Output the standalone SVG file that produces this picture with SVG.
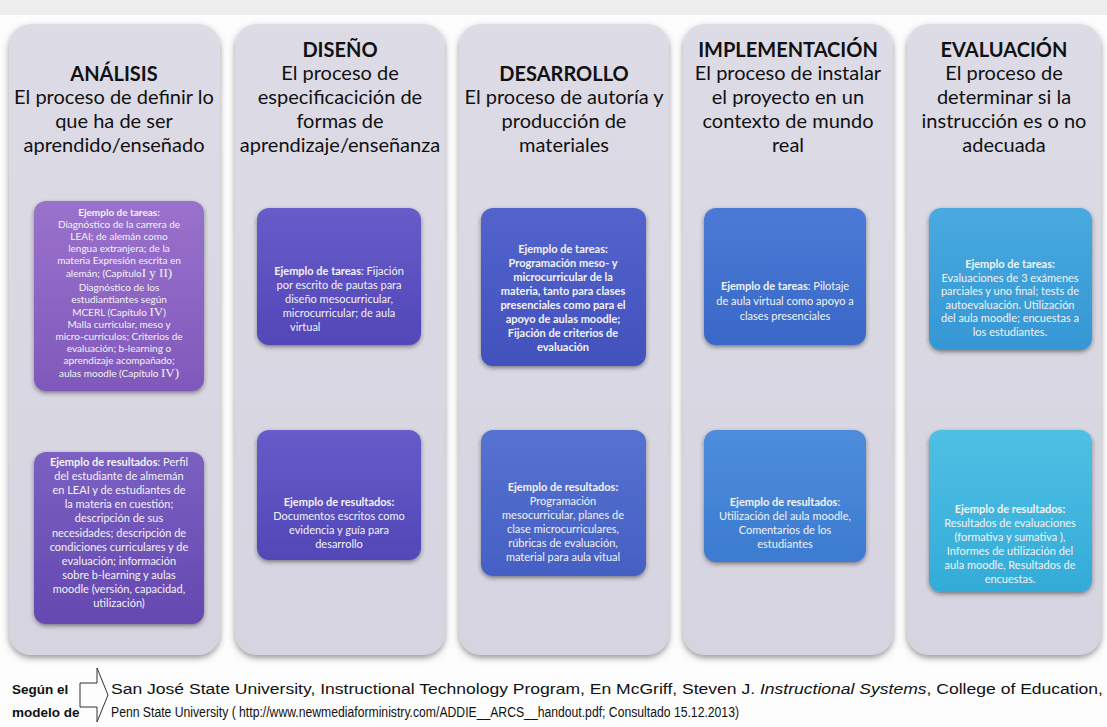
<svg xmlns="http://www.w3.org/2000/svg" width="1107" height="727" viewBox="0 0 1107 727">
<defs>
<style>
.hdr{font-family:Lato,"Open Sans","Liberation Sans",sans-serif;font-size:20px;fill:#111;text-anchor:middle}
.hb{font-weight:bold}
.bx{font-family:Lato,"Open Sans","Liberation Sans",sans-serif;font-size:11px;fill:#f3f3f3;text-anchor:middle}
.sm{font-size:10px}
.b{font-weight:bold}
.rom{font-family:"Liberation Serif",serif;font-size:13px}
.panel{fill:url(#gp)}
.cit{font-family:"Liberation Sans",Arial,sans-serif;font-size:14px;fill:#111}
.citb{font-family:"Liberation Sans",Arial,sans-serif;font-size:13.5px;font-weight:bold;fill:#111}
</style>
<linearGradient id="gp" x1="0" y1="0" x2="0" y2="1"><stop offset="0" stop-color="#dddbe5"/><stop offset="1" stop-color="#d6d4e0"/></linearGradient>
<linearGradient id="g1t" x1="0" y1="0" x2="0" y2="1"><stop offset="0" stop-color="#9a72cc"/><stop offset="1" stop-color="#8058bb"/></linearGradient>
<linearGradient id="g1b" x1="0" y1="0" x2="0" y2="1"><stop offset="0" stop-color="#7b60c2"/><stop offset="1" stop-color="#6448b0"/></linearGradient>
<linearGradient id="g2" x1="0" y1="0" x2="0" y2="1"><stop offset="0" stop-color="#675bc9"/><stop offset="1" stop-color="#5247b8"/></linearGradient>
<linearGradient id="g3t" x1="0" y1="0" x2="0" y2="1"><stop offset="0" stop-color="#5364cc"/><stop offset="1" stop-color="#4251bd"/></linearGradient>
<linearGradient id="g3b" x1="0" y1="0" x2="0" y2="1"><stop offset="0" stop-color="#5672d0"/><stop offset="1" stop-color="#4560c4"/></linearGradient>
<linearGradient id="g4t" x1="0" y1="0" x2="0" y2="1"><stop offset="0" stop-color="#4a7ad6"/><stop offset="1" stop-color="#3a68c8"/></linearGradient>
<linearGradient id="g4b" x1="0" y1="0" x2="0" y2="1"><stop offset="0" stop-color="#4e8ddc"/><stop offset="1" stop-color="#3c7bd0"/></linearGradient>
<linearGradient id="g5t" x1="0" y1="0" x2="0" y2="1"><stop offset="0" stop-color="#48aae0"/><stop offset="1" stop-color="#3597d4"/></linearGradient>
<linearGradient id="g5b" x1="0" y1="0" x2="0" y2="1"><stop offset="0" stop-color="#4fc0e4"/><stop offset="1" stop-color="#33abd8"/></linearGradient>
<filter id="sp" x="-10%" y="-5%" width="120%" height="112%"><feDropShadow dx="0" dy="3" stdDeviation="3" flood-color="#444" flood-opacity="0.55"/></filter>
<filter id="sb" x="-10%" y="-10%" width="120%" height="125%"><feDropShadow dx="0" dy="2" stdDeviation="2" flood-color="#222" flood-opacity="0.5"/></filter>
</defs>
<rect x="0" y="0" width="1107" height="727" fill="#fdfdfd"/>
<rect x="0" y="0" width="1107" height="15" fill="#eeeeee"/>

<g id="analisis">
<rect class="panel" x="9" y="24" width="211" height="631" rx="22" filter="url(#sp)"/>
<text class="hdr hb" x="114" y="81">ANÁLISIS</text>
<text class="hdr" x="114" y="104">El proceso de definir lo</text>
<text class="hdr" x="114" y="128">que ha de ser</text>
<text class="hdr" x="114" y="152">aprendido/enseñado</text>
</g>
<g id="analisis-tareas">
<rect x="34" y="201" width="170" height="190" rx="12" fill="url(#g1t)" filter="url(#sb)"/>
<text class="bx sm b" x="119" y="216">Ejemplo de tareas:</text>
<text class="bx sm" x="119" y="228">Diagnóstico de la carrera de</text>
<text class="bx sm" x="119" y="240">LEAI; de alemán como</text>
<text class="bx sm" x="119" y="252">lengua extranjera; de la</text>
<text class="bx sm" x="119" y="264">materia Expresión escrita en</text>
<text class="bx sm" x="119" y="277">alemán; (Capítulo<tspan class="rom">I y II)</tspan></text>
<text class="bx sm" x="119" y="291">Diagnóstico de los</text>
<text class="bx sm" x="119" y="303">estudiantiantes según</text>
<text class="bx sm" x="119" y="316">MCERL (Capítulo <tspan class="rom">IV</tspan>)</text>
<text class="bx sm" x="119" y="328">Malla curricular, meso y</text>
<text class="bx sm" x="119" y="340">micro-currículos; Criterios de</text>
<text class="bx sm" x="119" y="352">evaluación; b-learning o</text>
<text class="bx sm" x="119" y="364">aprendizaje acompañado;</text>
<text class="bx sm" x="119" y="377">aulas moodle (Capítulo <tspan class="rom">IV)</tspan></text>
</g>
<g id="analisis-resultados">
<rect x="34" y="452" width="170" height="172" rx="12" fill="url(#g1b)" filter="url(#sb)"/>
<text class="bx" x="119" y="466"><tspan class="b">Ejemplo de resultados</tspan>: Perfil</text>
<text class="bx" x="119" y="480">del estudiante de almemán</text>
<text class="bx" x="119" y="494">en LEAI y de estudiantes de</text>
<text class="bx" x="119" y="508">la materia en cuestión;</text>
<text class="bx" x="119" y="522">descripción de sus</text>
<text class="bx" x="119" y="537">necesidades; descripción de</text>
<text class="bx" x="119" y="551">condiciones curriculares y de</text>
<text class="bx" x="119" y="565">evaluación; información</text>
<text class="bx" x="119" y="579">sobre b-learning y aulas</text>
<text class="bx" x="119" y="593">moodle (versión, capacidad,</text>
<text class="bx" x="119" y="607">utilización)</text>
</g>

<g id="diseno">
<rect class="panel" x="235" y="24" width="210" height="631" rx="22" filter="url(#sp)"/>
<text class="hdr hb" x="340" y="57">DISEÑO</text>
<text class="hdr" x="340" y="80">El proceso de</text>
<text class="hdr" x="340" y="104">especificacición de</text>
<text class="hdr" x="340" y="128">formas de</text>
<text class="hdr" x="340" y="152">aprendizaje/enseñanza</text>
</g>
<g id="diseno-tareas">
<rect x="257" y="208" width="164" height="137" rx="12" fill="url(#g2)" filter="url(#sb)"/>
<text class="bx" x="339" y="275"><tspan class="b">Ejemplo de tareas</tspan>: Fijación</text>
<text class="bx" x="339" y="289">por escrito de pautas para</text>
<text class="bx" x="339" y="303">diseño mesocurricular,</text>
<text class="bx" x="339" y="317">microcurricular; de aula</text>
<text class="bx" x="290" y="331" style="text-anchor:start">virtual</text>
</g>
<g id="diseno-resultados">
<rect x="257" y="430" width="164" height="130" rx="12" fill="url(#g2)" filter="url(#sb)"/>
<text class="bx b" x="339" y="506">Ejemplo de resultados:</text>
<text class="bx" x="339" y="520">Documentos escritos como</text>
<text class="bx" x="339" y="534">evidencia y guía para</text>
<text class="bx" x="339" y="548">desarrollo</text>
</g>

<g id="desarrollo">
<rect class="panel" x="459" y="24" width="210" height="631" rx="22" filter="url(#sp)"/>
<text class="hdr hb" x="564" y="81">DESARROLLO</text>
<text class="hdr" x="564" y="104">El proceso de autoría y</text>
<text class="hdr" x="564" y="128">producción de</text>
<text class="hdr" x="564" y="152">materiales</text>
</g>
<g id="desarrollo-tareas">
<rect x="481" y="208" width="165" height="158" rx="12" fill="url(#g3t)" filter="url(#sb)"/>
<text class="bx b" x="563" y="253">Ejemplo de tareas:</text>
<text class="bx b" x="563" y="267">Programación meso- y</text>
<text class="bx b" x="563" y="281">microcurricular de la</text>
<text class="bx b" x="563" y="295">materia, tanto para clases</text>
<text class="bx b" x="563" y="309">presenciales como para el</text>
<text class="bx b" x="563" y="323">apoyo de aulas moodle;</text>
<text class="bx b" x="563" y="337">Fijación de criterios de</text>
<text class="bx b" x="563" y="351">evaluación</text>
</g>
<g id="desarrollo-resultados">
<rect x="481" y="430" width="165" height="146" rx="12" fill="url(#g3b)" filter="url(#sb)"/>
<text class="bx b" x="563" y="491">Ejemplo de resultados:</text>
<text class="bx" x="563" y="505">Programación</text>
<text class="bx" x="563" y="519">mesocurricular, planes de</text>
<text class="bx" x="563" y="533">clase microcurriculares,</text>
<text class="bx" x="563" y="547">rúbricas de evaluación,</text>
<text class="bx" x="563" y="561">material para aula vitual</text>
</g>

<g id="implementacion">
<rect class="panel" x="683" y="24" width="210" height="631" rx="22" filter="url(#sp)"/>
<text class="hdr hb" x="788" y="57">IMPLEMENTACIÓN</text>
<text class="hdr" x="788" y="80">El proceso de instalar</text>
<text class="hdr" x="788" y="104">el proyecto en un</text>
<text class="hdr" x="788" y="128">contexto de mundo</text>
<text class="hdr" x="788" y="152">real</text>
</g>
<g id="implementacion-tareas">
<rect x="704" y="208" width="162" height="137" rx="12" fill="url(#g4t)" filter="url(#sb)"/>
<text class="bx" x="785" y="290"><tspan class="b">Ejemplo de tareas</tspan>: Pilotaje</text>
<text class="bx" x="785" y="305">de aula virtual como apoyo a</text>
<text class="bx" x="785" y="320">clases presenciales</text>
</g>
<g id="implementacion-resultados">
<rect x="704" y="430" width="162" height="132" rx="12" fill="url(#g4b)" filter="url(#sb)"/>
<text class="bx" x="785" y="506"><tspan class="b">Ejemplo de resultados</tspan>:</text>
<text class="bx" x="785" y="520">Utilización del aula moodle,</text>
<text class="bx" x="785" y="534">Comentarios de los</text>
<text class="bx" x="785" y="548">estudiantes</text>
</g>

<g id="evaluacion">
<rect class="panel" x="907" y="24" width="194" height="631" rx="22" filter="url(#sp)"/>
<text class="hdr hb" x="1004" y="57">EVALUACIÓN</text>
<text class="hdr" x="1004" y="80">El proceso de</text>
<text class="hdr" x="1004" y="104">determinar si la</text>
<text class="hdr" x="1004" y="128">instrucción es o no</text>
<text class="hdr" x="1004" y="152">adecuada</text>
</g>
<g id="evaluacion-tareas">
<rect x="929" y="208" width="163" height="142" rx="12" fill="url(#g5t)" filter="url(#sb)"/>
<text class="bx b" x="1010" y="268">Ejemplo de tareas:</text>
<text class="bx" x="1010" y="282">Evaluaciones de 3 exámenes</text>
<text class="bx" x="1010" y="295">parciales y uno final; tests de</text>
<text class="bx" x="1010" y="309">autoevaluación. Utilización</text>
<text class="bx" x="1010" y="322">del aula moodle; encuestas a</text>
<text class="bx" x="1010" y="336">los estudiantes.</text>
</g>
<g id="evaluacion-resultados">
<rect x="929" y="430" width="163" height="162" rx="12" fill="url(#g5b)" filter="url(#sb)"/>
<text class="bx b" x="1010" y="513">Ejemplo de resultados:</text>
<text class="bx" x="1010" y="527">Resultados de evaluaciones</text>
<text class="bx" x="1010" y="541">(formativa y sumativa ),</text>
<text class="bx" x="1010" y="555">Informes de utilización del</text>
<text class="bx" x="1010" y="569">aula moodle, Resultados de</text>
<text class="bx" x="1010" y="583">encuestas.</text>
</g>

<g id="cita">
<text class="citb" x="12" y="694">Según el</text>
<text class="citb" x="12" y="717">modelo de</text>
<path d="M80,683 H97 V668 L108,695 L97,722 V707 H80 Z" fill="none" stroke="#333" stroke-width="1"/>
<text class="cit" x="111" y="694" textLength="992" lengthAdjust="spacingAndGlyphs">San José State University, Instructional Technology Program, En McGriff, Steven J. <tspan font-style="italic">Instructional Systems</tspan>, College of Education,</text>
<text class="cit" x="111" y="717" textLength="628" lengthAdjust="spacingAndGlyphs">Penn State University   ( http://www.newmediaforministry.com/ADDIE__ARCS__handout.pdf; Consultado 15.12.2013)</text>
</g>
</svg>
